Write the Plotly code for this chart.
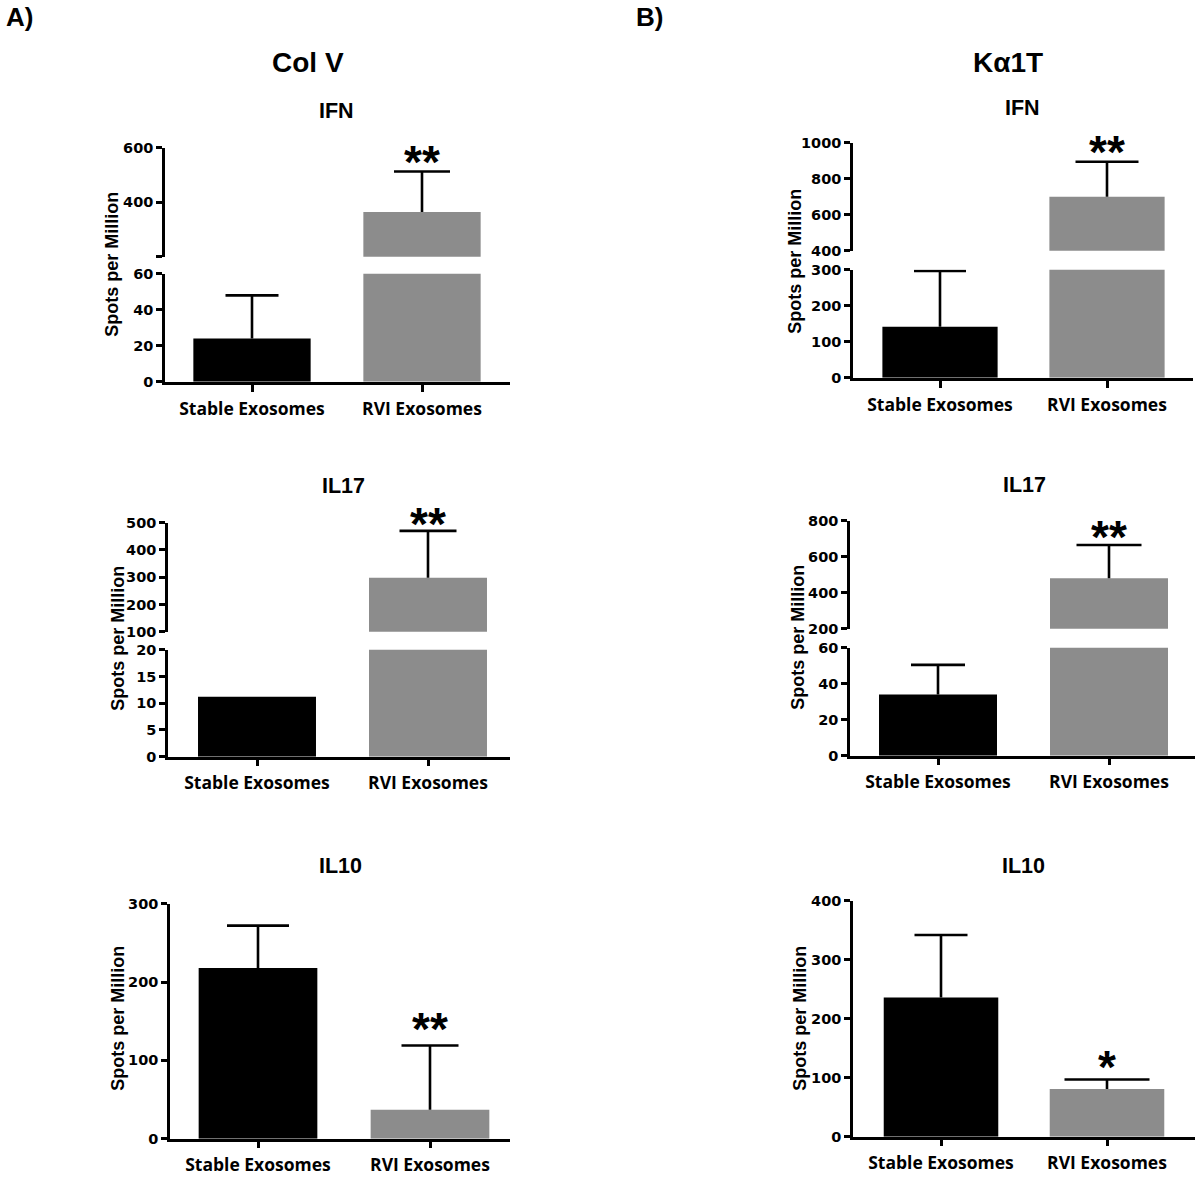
import plotly.graph_objects as go

W, H = 1200, 1185

categories = ["Stable Exosomes", "RVI Exosomes"]

# ---- Col V (panel A) ----
colv_ifn_mean = [24, 364]
colv_ifn_sem = [24, 149]
colv_ifn_sig = ["", "**"]

colv_il17_mean = [11.2, 298]
colv_il17_sem = [0, 172]
colv_il17_sig = ["", "**"]

colv_il10_mean = [218, 37]
colv_il10_sem = [54, 82]
colv_il10_sig = ["", "**"]

# ---- Ka1T (panel B) ----
ka1t_ifn_mean = [142, 700]
ka1t_ifn_sem = [155, 195]
ka1t_ifn_sig = ["", "**"]

ka1t_il17_mean = [34, 480]
ka1t_il17_sem = [16.5, 185]
ka1t_il17_sig = ["", "**"]

ka1t_il10_mean = [236, 81]
ka1t_il10_sem = [106, 16]
ka1t_il10_sig = ["", "*"]

# ---- axis ticks ----
colv_ifn_low_ticks = [0, 20, 40, 60]
colv_ifn_up_ticks = [200, 400, 600]
colv_ifn_up_labels = ["", "400", "600"]
colv_il17_low_ticks = [0, 5, 10, 15, 20]
colv_il17_up_ticks = [100, 200, 300, 400, 500]
colv_il10_ticks = [0, 100, 200, 300]

ka1t_ifn_low_ticks = [0, 100, 200, 300]
ka1t_ifn_up_ticks = [400, 600, 800, 1000]
ka1t_il17_low_ticks = [0, 20, 40, 60]
ka1t_il17_up_ticks = [200, 400, 600, 800]
ka1t_il10_ticks = [0, 100, 200, 300, 400]

BAR_COLORS = ["#000000", "#8c8c8c"]
ERR_W = 2.6

# vertical calibration of the captured picture (picture_y = V_OFF + V_SCALE * page_y)
V_OFF, V_SCALE = 8.2, 0.9866


def seg(px, rng, ticks, labels=None):
    return dict(px=px, range=rng, tickvals=ticks,
                ticktext=labels if labels is not None else [str(t) for t in ticks])


# geometry / style of each panel (pixel positions in the 1200x1185 picture)
panels = [
    dict(name="IFN", mean=colv_ifn_mean, sem=colv_ifn_sem, sig=colv_ifn_sig,
         xdom=(165, 510), tpx=(252, 422),
         segs=[seg((274, 382), (0, 60), colv_ifn_low_ticks),
               seg((148, 257), (200, 600), colv_ifn_up_ticks, colv_ifn_up_labels)],
         title_xy=(336, 111), ylab_xy=(112, 265), caps=(53, 56), star_gap=17),
    dict(name="IFN", mean=ka1t_ifn_mean, sem=ka1t_ifn_sem, sig=ka1t_ifn_sig,
         xdom=(853, 1193), tpx=(940, 1107),
         segs=[seg((270, 378), (0, 300), ka1t_ifn_low_ticks),
               seg((143, 251), (400, 1000), ka1t_ifn_up_ticks)],
         title_xy=(1022, 108), ylab_xy=(795, 262), caps=(52, 63), star_gap=18),
    dict(name="IL17", mean=colv_il17_mean, sem=colv_il17_sem, sig=colv_il17_sig,
         xdom=(168, 510), tpx=(257, 428),
         segs=[seg((650, 757), (0, 20), colv_il17_low_ticks),
               seg((523, 632), (100, 500), colv_il17_up_ticks)],
         title_xy=(343, 486), ylab_xy=(118, 639), caps=(54, 57), star_gap=15),
    dict(name="IL17", mean=ka1t_il17_mean, sem=ka1t_il17_sem, sig=ka1t_il17_sig,
         xdom=(850, 1195), tpx=(938, 1109),
         segs=[seg((648, 756), (0, 60), ka1t_il17_low_ticks),
               seg((521, 629), (200, 800), ka1t_il17_up_ticks)],
         title_xy=(1024, 485), ylab_xy=(798, 638), caps=(54, 65), star_gap=16),
    dict(name="IL10", mean=colv_il10_mean, sem=colv_il10_sem, sig=colv_il10_sig,
         xdom=(170, 510), tpx=(258, 430),
         segs=[seg((904, 1139), (0, 300), colv_il10_ticks)],
         title_xy=(340, 866), ylab_xy=(118, 1019), caps=(62, 57), star_gap=24),
    dict(name="IL10", mean=ka1t_il10_mean, sem=ka1t_il10_sem, sig=ka1t_il10_sig,
         xdom=(853, 1195), tpx=(941, 1107),
         segs=[seg((901, 1137), (0, 400), ka1t_il10_ticks)],
         title_xy=(1023, 866), ylab_xy=(800, 1019), caps=(53, 85), star_gap=20),
]


def fx(p):
    return p / W


def fy(p):
    page_y = (p - V_OFF) / V_SCALE
    return 1 - page_y / H


def key(prefix, n):
    return prefix + ("axis" if n == 1 else f"axis{n}")


def ref(prefix, n):
    return prefix if n == 1 else f"{prefix}{n}"


fig = go.Figure()
layout = {}
annotations = []

xn = 0
yn = 0
for p in panels:
    xn += 1
    xr = ref("x", xn)
    seg_ids = []
    for s in p["segs"]:
        yn += 1
        seg_ids.append(yn)
    low_yr = ref("y", seg_ids[0])
    a, b = p["xdom"]
    t0, t1 = p["tpx"]
    u = t1 - t0
    layout[key("x", xn)] = dict(
        domain=[fx(a), fx(b)], anchor=low_yr, type="category",
        categoryorder="array", categoryarray=categories,
        range=[(a - t0) / u, (b - t0) / u],
        showline=True, linecolor="black", linewidth=2.5,
        ticks="outside", ticklen=7, tickwidth=2.5, tickcolor="black",
        ticklabelstandoff=2,
        tickfont=dict(family="Open Sans", size=17.5, color="black", weight="bold"),
        showgrid=False, zeroline=False, fixedrange=True,
    )
    for s, yid in zip(p["segs"], seg_ids):
        yr = ref("y", yid)
        top, bot = s["px"]
        lo, hi = s["range"]
        layout[key("y", yid)] = dict(
            domain=[fy(bot), fy(top)], anchor=xr, range=[lo, hi],
            showline=True, linecolor="black", linewidth=2.5,
            ticks="outside", ticklen=6, tickwidth=2.5, tickcolor="black",
            tickvals=s["tickvals"], ticktext=s["ticktext"],
            tickfont=dict(family="DejaVu Sans", size=14.5, color="black", weight="bold"),
            showgrid=False, zeroline=False, fixedrange=True,
        )
        for i in range(2):
            m = p["mean"][i]
            e = p["sem"][i]
            show_err = (e > 0) and (lo <= m <= hi)
            fig.add_trace(go.Bar(
                x=[categories[i]], y=[m], width=0.69,
                marker=dict(color=BAR_COLORS[i], line=dict(width=0)),
                error_y=dict(type="data", array=[e], arrayminus=[0], symmetric=False,
                             visible=show_err, color="black", thickness=ERR_W, width=0),
                xaxis=xr, yaxis=yr, showlegend=False, hoverinfo="skip",
            ))
            if show_err:
                # cap of the error bar
                fig.add_trace(go.Scatter(
                    x=[categories[i]], y=[m + e], mode="markers",
                    marker=dict(symbol="line-ew", size=p["caps"][i] / 1.4,
                                line=dict(width=ERR_W, color="black")),
                    xaxis=xr, yaxis=yr, showlegend=False, hoverinfo="skip",
                ))
            if p["sig"][i] and lo <= m + e <= hi:
                annotations.append(dict(
                    x=categories[i], y=m + e, xref=xr, yref=yr,
                    text=p["sig"][i], showarrow=False, yanchor="middle",
                    yshift=p["star_gap"] - 8,
                    font=dict(family="Liberation Sans", size=46, color="black", weight="bold"),
                ))
    tx, ty = p["title_xy"]
    annotations.append(dict(x=fx(tx), y=fy(ty), xref="paper", yref="paper",
                            text=p["name"], showarrow=False, xanchor="center", yanchor="middle",
                            font=dict(family="Liberation Sans", size=21.5, color="black", weight="bold")))
    lx, ly = p["ylab_xy"]
    annotations.append(dict(x=fx(lx), y=fy(ly), xref="paper", yref="paper",
                            text="Spots per Million", showarrow=False, textangle=-90,
                            xanchor="center", yanchor="middle",
                            font=dict(family="Liberation Sans", size=18, color="black", weight="bold")))

for txt, x, y, size in [("A)", 19, 17, 26), ("B)", 649, 17, 26),
                        ("Col V", 308, 63, 28), ("Kα1T", 1008, 63, 28)]:
    annotations.append(dict(x=fx(x), y=fy(y), xref="paper", yref="paper", text=txt,
                            showarrow=False, xanchor="center", yanchor="middle",
                            font=dict(family="Liberation Sans", size=size, color="black", weight="bold")))

fig.update_layout(
    width=W, height=H, margin=dict(l=0, r=0, t=0, b=0),
    paper_bgcolor="white", plot_bgcolor="white",
    barmode="overlay", showlegend=False,
    annotations=annotations,
    **layout,
)

fig.write_html("out.html", config={"displayModeBar": False},
               post_script="document.body.style.margin='0';document.body.style.overflow='hidden';")
